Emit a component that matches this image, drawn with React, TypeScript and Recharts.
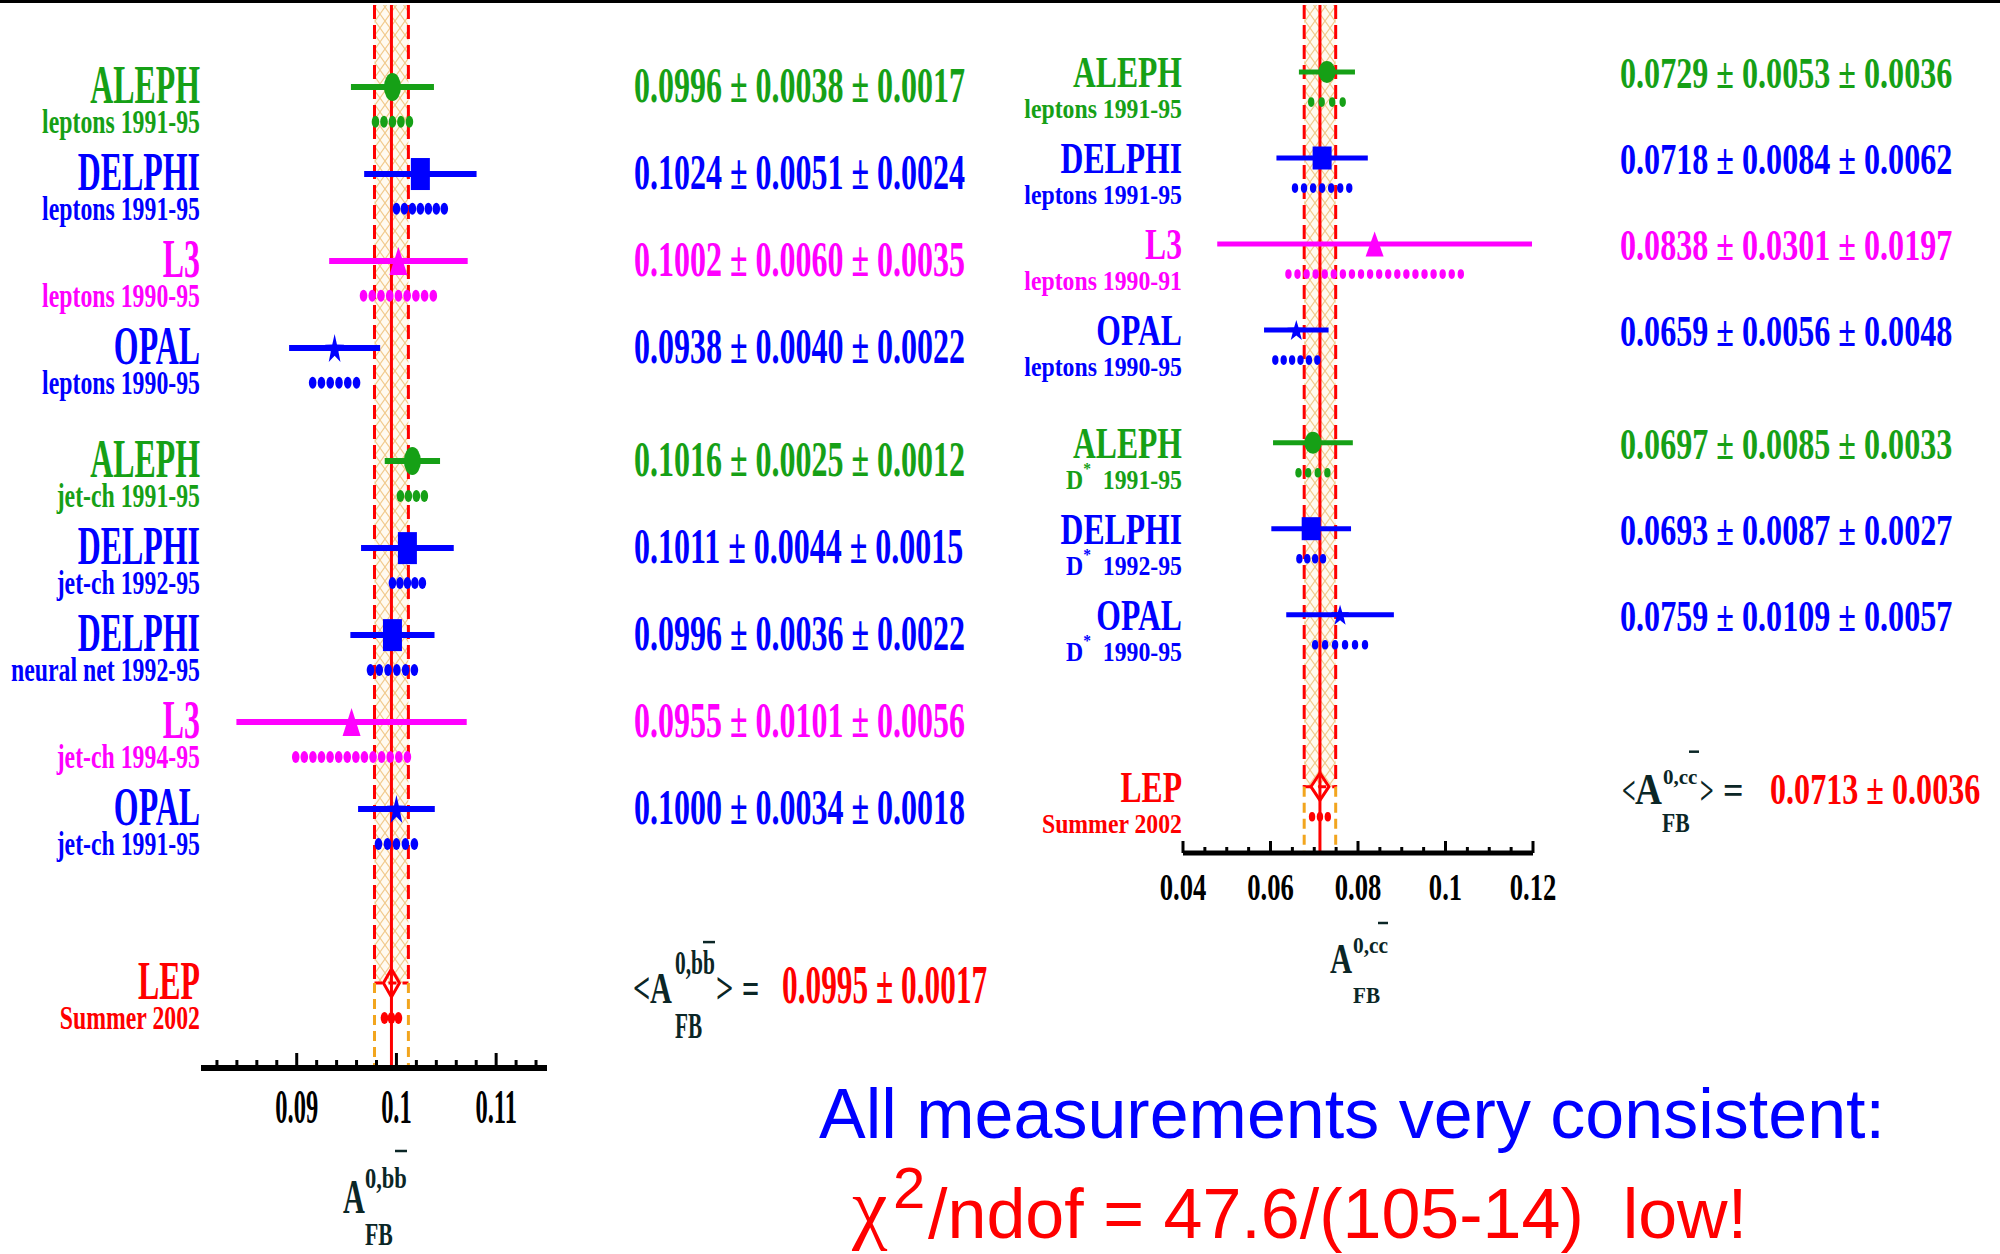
import React from "react";
import {
  Label,
  ReferenceArea,
  ReferenceLine,
  Scatter,
  ScatterChart,
  XAxis,
  YAxis,
} from "recharts";

const GREEN = "#16a016";
const BLUE = "#0000ff";
const MAGENTA = "#ff00ff";
const RED = "#ff0000";
const ORANGE = "#f2a51e";
const INK = "#0b2626";
const SERIF = "'Liberation Serif', 'Times New Roman', serif";
const SANS = "'Liberation Sans', Arial, sans-serif";

// A_FB^{0,b} measurements (left panel)
const bExperiments = ["ALEPH", "DELPHI", "L3", "OPAL", "ALEPH", "DELPHI", "DELPHI", "L3", "OPAL"];
const bMethods = [
  "leptons 1991-95",
  "leptons 1991-95",
  "leptons 1990-95",
  "leptons 1990-95",
  "jet-ch 1991-95",
  "jet-ch 1992-95",
  "neural net 1992-95",
  "jet-ch 1994-95",
  "jet-ch 1991-95",
];
const bValues = [0.0996, 0.1024, 0.1002, 0.0938, 0.1016, 0.1011, 0.0996, 0.0955, 0.1];
const bStat = [0.0038, 0.0051, 0.006, 0.004, 0.0025, 0.0044, 0.0036, 0.0101, 0.0034];
const bSyst = [0.0017, 0.0024, 0.0035, 0.0022, 0.0012, 0.0015, 0.0022, 0.0056, 0.0018];
const bLep = { value: 0.0995, error: 0.0017, dots: 0.0007 };
const bTicks = [
  0.082, 0.084, 0.086, 0.088, 0.09, 0.092, 0.094, 0.096, 0.098, 0.1, 0.102, 0.104, 0.106,
  0.108, 0.11, 0.112, 0.114,
];
const bTickLabels = [0.09, 0.1, 0.11];

// A_FB^{0,c} measurements (right panel)
const cExperiments = ["ALEPH", "DELPHI", "L3", "OPAL", "ALEPH", "DELPHI", "OPAL"];
const cMethods = [
  "leptons 1991-95",
  "leptons 1991-95",
  "leptons 1990-91",
  "leptons 1990-95",
  "D* 1991-95",
  "D* 1992-95",
  "D* 1990-95",
];
const cValues = [0.0729, 0.0718, 0.0838, 0.0659, 0.0697, 0.0693, 0.0759];
const cStat = [0.0053, 0.0084, 0.0301, 0.0056, 0.0085, 0.0087, 0.0109];
const cSyst = [0.0036, 0.0062, 0.0197, 0.0048, 0.0033, 0.0027, 0.0057];
const cLep = { value: 0.0713, error: 0.0036, dots: 0.0018 };
const cTicks = [
  0.04, 0.045, 0.05, 0.055, 0.06, 0.065, 0.07, 0.075, 0.08, 0.085, 0.09, 0.095, 0.1, 0.105,
  0.11, 0.115, 0.12,
];
const cTickLabels = [0.04, 0.06, 0.08, 0.1, 0.12];

const EXP_STYLE: Record<string, { color: string; shape: string }> = {
  ALEPH: { color: GREEN, shape: "circle" },
  DELPHI: { color: BLUE, shape: "square" },
  L3: { color: MAGENTA, shape: "triangle" },
  OPAL: { color: BLUE, shape: "star" },
};

const bPanel = {
  id: "b",
  left: 0,
  width: 1000,
  height: 1254,
  nameWidth: 201,
  valueWidth: 453,
  axisHeight: 186,
  xDomain: [0.0804, 0.1151],
  rowDomain: [-0.943, 11.276],
  gapAfter: 4,
  gap: 0.3,
  dotRow: 0.4,
  name: { size: 54, sx: 0.59, dy: 16 },
  sub: { size: 34, sx: 0.7, dy: 46 },
  val: { size: 50, sx: 0.64, dx: 87, dy: 15 },
  bar: 6,
  dots: { spacing: 8.3, rx: 3.8, ry: 6 },
  marker: { circle: [17, 28], square: [19, 32], triangle: [18, 28], star: [19, 28], diamond: [16, 28] },
  ticks: { major: 15, minor: 8, size: 49, sx: 0.5, dy: 55, line: 6 },
  sup: "0,bb",
  formula: {
    lt: { dx: 86, size: 44, sx: 0.69 },
    a: { dx: 103, size: 44, sx: 0.69 },
    gt: { dx: 169, size: 44, sx: 0.69 },
    eq: { dx: 195, size: 44, sx: 0.69 },
    base: 20,
    sup: { dx: 128, dy: -9, size: 34, sx: 0.63 },
    bar: { x1: 156, x2: 168, dy: -41 },
    fb: { dx: 128, dy: 55, size: 36, sx: 0.59 },
    value: { dx: 235, size: 55, sx: 0.57 },
  },
  title: {
    a: { dx: 142, dy: 145, size: 48, sx: 0.63 },
    sup: { dx: 164, dy: 120, size: 30, sx: 0.75 },
    bar: { x1: 194, x2: 206, dy: 83 },
    fb: { dx: 164, dy: 177, size: 32, sx: 0.68 },
  },
};

const cPanel = {
  id: "c",
  left: 1000,
  width: 1000,
  height: 1010,
  nameWidth: 183,
  valueWidth: 467,
  axisHeight: 157,
  xDomain: [0.04, 0.12],
  rowDomain: [-0.779, 9.081],
  gapAfter: 4,
  gap: 0.31,
  dotRow: 0.35,
  name: { size: 44, sx: 0.72, dy: 15 },
  sub: { size: 27, sx: 0.88, dy: 46 },
  val: { size: 44, sx: 0.73, dx: 87, dy: 16 },
  bar: 5,
  dots: { spacing: 9.3, rx: 3.2, ry: 4.8 },
  marker: { circle: [17, 22], square: [19, 23], triangle: [18, 25], star: [18, 20], diamond: [18, 27] },
  ticks: { major: 12, minor: 6, size: 37, sx: 0.72, dy: 47, line: 5 },
  sup: "0,cc",
  formula: {
    lt: { dx: 89, size: 40, sx: 0.6 },
    a: { dx: 102, size: 45, sx: 0.83 },
    gt: { dx: 167, size: 40, sx: 0.6 },
    eq: { dx: 190, size: 40, sx: 0.9 },
    base: 17,
    sup: { dx: 130, dy: -3, size: 21, sx: 1 },
    bar: { x1: 156, x2: 166, dy: -35 },
    fb: { dx: 129, dy: 45, size: 27, sx: 0.8 },
    value: { dx: 237, size: 44, sx: 0.73 },
  },
  title: {
    a: { dx: 147, dy: 120, size: 42, sx: 0.73 },
    sup: { dx: 170, dy: 100, size: 23, sx: 0.93 },
    bar: { x1: 195, x2: 205, dy: 70 },
    fb: { dx: 170, dy: 150, size: 23, sx: 0.92 },
  },
};

const fmt4 = (v: number) => v.toFixed(4);
const near = (a: number, b: number) => Math.abs(a - b) < 1e-6;

function makeRows(exps, methods, values, stat, syst, cfg) {
  return exps.map((exp, i) => ({
    pos: i + (i >= cfg.gapAfter ? cfg.gap : 0),
    exp,
    method: methods[i],
    value: values[i],
    stat: stat[i],
    syst: syst[i],
    total: Math.sqrt(stat[i] * stat[i] + syst[i] * syst[i]),
  }));
}

// condensed bold serif text, like the stretched original
const SText = ({ x, y, size, sx = 1, fill = INK, anchor = "start", children }: any) => (
  <text
    transform={`translate(${x},${y}) scale(${sx},1)`}
    fontSize={size}
    fill={fill}
    textAnchor={anchor}
    fontWeight="bold"
    fontFamily={SERIF}
    xmlSpace="preserve"
  >
    {children}
  </text>
);

const SubText = ({ method, size }: any) => {
  if (method.startsWith("D* ")) {
    return (
      <>
        <tspan>D</tspan>
        <tspan dy={-size * 0.55} fontSize={size * 0.65}>*</tspan>
        <tspan dy={size * 0.55}>{"  " + method.slice(3)}</tspan>
      </>
    );
  }
  return <>{method}</>;
};

const NameTick = ({ x, y, payload, rows, lepPos, cfg }: any) => {
  const isLep = near(payload.value, lepPos);
  const row = rows.find((r) => near(r.pos, payload.value));
  if (!isLep && !row) return null;
  const color = isLep ? RED : EXP_STYLE[row.exp].color;
  return (
    <g>
      <SText x={x - 1} y={y + cfg.name.dy} size={cfg.name.size} sx={cfg.name.sx} fill={color} anchor="end">
        {isLep ? "LEP" : row.exp}
      </SText>
      <SText x={x - 1} y={y + cfg.sub.dy} size={cfg.sub.size} sx={cfg.sub.sx} fill={color} anchor="end">
        {isLep ? "Summer 2002" : <SubText method={row.method} size={cfg.sub.size} />}
      </SText>
    </g>
  );
};

const Formula = ({ x, y, cfg, lep }: any) => {
  const f = cfg.formula;
  const by = y + f.base;
  return (
    <g>
      <SText x={x + f.lt.dx} y={by} size={f.lt.size} sx={f.lt.sx}>{"<"}</SText>
      <SText x={x + f.a.dx} y={by} size={f.a.size} sx={f.a.sx}>A</SText>
      <SText x={x + f.sup.dx} y={y + f.sup.dy} size={f.sup.size} sx={f.sup.sx}>{cfg.sup}</SText>
      <line x1={x + f.bar.x1} x2={x + f.bar.x2} y1={y + f.bar.dy} y2={y + f.bar.dy} stroke={INK} strokeWidth={2.5} />
      <SText x={x + f.fb.dx} y={y + f.fb.dy} size={f.fb.size} sx={f.fb.sx}>FB</SText>
      <SText x={x + f.gt.dx} y={by} size={f.gt.size} sx={f.gt.sx}>{">"}</SText>
      <SText x={x + f.eq.dx} y={by} size={f.eq.size} sx={f.eq.sx}>=</SText>
      <SText x={x + f.value.dx} y={by} size={f.value.size} sx={f.value.sx} fill={RED}>
        {`${fmt4(lep.value)} \u00b1 ${fmt4(lep.error)}`}
      </SText>
    </g>
  );
};

const ValueTick = ({ x, y, payload, rows, lepPos, cfg, lep }: any) => {
  if (near(payload.value, lepPos)) return <Formula x={x} y={y} cfg={cfg} lep={lep} />;
  const row = rows.find((r) => near(r.pos, payload.value));
  if (!row) return null;
  return (
    <SText x={x + cfg.val.dx} y={y + cfg.val.dy} size={cfg.val.size} sx={cfg.val.sx} fill={EXP_STYLE[row.exp].color}>
      {`${fmt4(row.value)} \u00b1 ${fmt4(row.stat)} \u00b1 ${fmt4(row.syst)}`}
    </SText>
  );
};

const XTick = ({ x, y, payload, cfg, labels }: any) => {
  const v = payload.value;
  const major = labels.some((l) => near(l, v));
  return (
    <g>
      <line
        x1={x}
        x2={x}
        y1={y}
        y2={y - (major ? cfg.ticks.major : cfg.ticks.minor)}
        stroke="#000"
        strokeWidth={3}
      />
      {major && (
        <SText x={x} y={y + cfg.ticks.dy} size={cfg.ticks.size} sx={cfg.ticks.sx} fill="#000" anchor="middle">
          {String(+v.toFixed(3))}
        </SText>
      )}
    </g>
  );
};

const AxisTitle = ({ viewBox, cfg }: any) => {
  const x = viewBox && viewBox.x != null ? viewBox.x : cfg.nameWidth;
  const y = viewBox && viewBox.y != null ? viewBox.y : cfg.height - cfg.axisHeight;
  const t = cfg.title;
  return (
    <g>
      <SText x={x + t.a.dx} y={y + t.a.dy} size={t.a.size} sx={t.a.sx}>A</SText>
      <SText x={x + t.sup.dx} y={y + t.sup.dy} size={t.sup.size} sx={t.sup.sx}>{cfg.sup}</SText>
      <line x1={x + t.bar.x1} x2={x + t.bar.x2} y1={y + t.bar.dy} y2={y + t.bar.dy} stroke={INK} strokeWidth={2.5} />
      <SText x={x + t.fb.dx} y={y + t.fb.dy} size={t.fb.size} sx={t.fb.sx}>FB</SText>
    </g>
  );
};

function starPoints(cx: number, cy: number, w: number, h: number) {
  const pts: string[] = [];
  for (let k = 0; k < 10; k++) {
    const ang = -Math.PI / 2 + (k * Math.PI) / 5;
    const r = k % 2 ? 0.4 : 1;
    const px = cx + (r * Math.cos(ang) * w) / 1.902;
    const py = cy + ((r * Math.sin(ang) + 0.0955) * h) / 1.809;
    pts.push(`${px},${py}`);
  }
  return pts.join(" ");
}

const Marker = ({ cx, cy, payload, cfg }: any) => {
  if (payload.exp === "LEP") {
    const [w, h] = cfg.marker.diamond;
    return (
      <polygon
        points={`${cx},${cy - h / 2} ${cx + w / 2},${cy} ${cx},${cy + h / 2} ${cx - w / 2},${cy}`}
        fill="none"
        stroke={RED}
        strokeWidth={3}
      />
    );
  }
  const st = EXP_STYLE[payload.exp];
  const [w, h] = cfg.marker[st.shape];
  if (st.shape === "circle") return <ellipse cx={cx} cy={cy} rx={w / 2} ry={h / 2} fill={st.color} />;
  if (st.shape === "square")
    return <rect x={cx - w / 2} y={cy - h / 2} width={w} height={h} fill={st.color} />;
  if (st.shape === "triangle")
    return (
      <polygon
        points={`${cx},${cy - h / 2} ${cx - w / 2},${cy + h / 2} ${cx + w / 2},${cy + h / 2}`}
        fill={st.color}
      />
    );
  return <polygon points={starPoints(cx, cy, w, h)} fill={st.color} />;
};

// systematic error drawn as a row of dots between the segment ends
const DotRow = ({ x1, y1, x2, color, cfg }: any) => {
  const len = Math.abs(x2 - x1);
  const n = Math.max(1, Math.round(len / cfg.dots.spacing) + 1);
  const step = n > 1 ? len / (n - 1) : 0;
  const start = Math.min(x1, x2);
  return (
    <g>
      {Array.from({ length: n }, (_, k) => (
        <ellipse key={k} cx={start + k * step} cy={y1} rx={cfg.dots.rx} ry={cfg.dots.ry} fill={color} />
      ))}
    </g>
  );
};

function Panel({ cfg, rows, lep, ticks, tickLabels }: any) {
  const lepPos = rows[rows.length - 1].pos + 2;
  const [top, bottom] = cfg.rowDomain;
  const lo = lep.value - lep.error;
  const hi = lep.value + lep.error;
  const rowTicks = [...rows.map((r) => r.pos), lepPos];
  const points = rows.map((r) => ({ x: r.value, y: r.pos, exp: r.exp }));
  const lepPoint = [{ x: lep.value, y: lepPos, exp: "LEP" }];
  const hatch = `hatch-${cfg.id}`;

  return (
    <div style={{ position: "absolute", left: cfg.left, top: 0 }}>
      <ScatterChart width={cfg.width} height={cfg.height} margin={{ top: 5, right: 0, bottom: 0, left: 0 }}>
        <defs>
          <pattern id={hatch} width={10} height={14} patternUnits="userSpaceOnUse">
            <rect width={10} height={14} fill="#fffaf0" />
            <path d="M0,0 L10,14 M10,0 L0,14" stroke="#f1c98a" strokeWidth={1.1} />
          </pattern>
        </defs>
        <XAxis
          type="number"
          dataKey="x"
          domain={cfg.xDomain}
          allowDataOverflow
          ticks={ticks}
          interval={0}
          height={cfg.axisHeight}
          tickSize={0}
          tickMargin={0}
          tickLine={false}
          axisLine={{ stroke: "#000", strokeWidth: cfg.ticks.line }}
          tick={(p: any) => <XTick {...p} cfg={cfg} labels={tickLabels} />}
        >
          <Label content={(p: any) => <AxisTitle viewBox={p.viewBox} cfg={cfg} />} />
        </XAxis>
        <YAxis
          yAxisId="rows"
          type="number"
          dataKey="y"
          domain={cfg.rowDomain}
          reversed
          allowDataOverflow
          ticks={rowTicks}
          interval={0}
          width={cfg.nameWidth}
          tickSize={0}
          tickMargin={0}
          tickLine={false}
          axisLine={false}
          tick={(p: any) => <NameTick {...p} rows={rows} lepPos={lepPos} cfg={cfg} />}
        />
        <YAxis
          yAxisId="vals"
          orientation="right"
          type="number"
          dataKey="y"
          domain={cfg.rowDomain}
          reversed
          allowDataOverflow
          ticks={rowTicks}
          interval={0}
          width={cfg.valueWidth}
          tickSize={0}
          tickMargin={0}
          tickLine={false}
          axisLine={false}
          tick={(p: any) => <ValueTick {...p} rows={rows} lepPos={lepPos} cfg={cfg} lep={lep} />}
        />

        {/* LEP average band */}
        <ReferenceArea
          yAxisId="rows"
          x1={lo}
          x2={hi}
          y1={top}
          y2={lepPos}
          fill={`url(#${hatch})`}
          fillOpacity={1}
          stroke="none"
          ifOverflow="visible"
        />
        {[lo, hi].map((v) => (
          <ReferenceLine
            key={`red-${v}`}
            yAxisId="rows"
            segment={[{ x: v, y: top }, { x: v, y: lepPos }]}
            stroke={RED}
            strokeWidth={3}
            strokeDasharray="14 6"
            ifOverflow="visible"
          />
        ))}
        <ReferenceLine
          yAxisId="rows"
          segment={[{ x: lo, y: lepPos }, { x: hi, y: lepPos }]}
          stroke={RED}
          strokeWidth={3}
          strokeDasharray="8 6"
          ifOverflow="visible"
        />
        {[lo, hi].map((v) => (
          <ReferenceLine
            key={`or-${v}`}
            yAxisId="rows"
            segment={[{ x: v, y: lepPos }, { x: v, y: bottom }]}
            stroke={ORANGE}
            strokeWidth={3}
            strokeDasharray="10 6"
            ifOverflow="visible"
          />
        ))}
        <ReferenceLine yAxisId="rows" x={lep.value} stroke={RED} strokeWidth={3} ifOverflow="visible" />

        {/* total error bars */}
        {rows.map((r, i) => (
          <ReferenceLine
            key={`bar-${i}`}
            yAxisId="rows"
            segment={[{ x: r.value - r.total, y: r.pos }, { x: r.value + r.total, y: r.pos }]}
            stroke={EXP_STYLE[r.exp].color}
            strokeWidth={cfg.bar}
            ifOverflow="visible"
          />
        ))}
        {/* systematic errors as dots */}
        {rows.map((r, i) => (
          <ReferenceLine
            key={`sys-${i}`}
            yAxisId="rows"
            segment={[
              { x: r.value - r.syst, y: r.pos + cfg.dotRow },
              { x: r.value + r.syst, y: r.pos + cfg.dotRow },
            ]}
            ifOverflow="visible"
            shape={(p: any) => <DotRow {...p} color={EXP_STYLE[r.exp].color} cfg={cfg} />}
          />
        ))}
        <ReferenceLine
          yAxisId="rows"
          segment={[
            { x: lep.value - lep.dots, y: lepPos + cfg.dotRow },
            { x: lep.value + lep.dots, y: lepPos + cfg.dotRow },
          ]}
          ifOverflow="visible"
          shape={(p: any) => <DotRow {...p} color={RED} cfg={cfg} />}
        />

        <Scatter
          yAxisId="rows"
          data={points}
          isAnimationActive={false}
          shape={(p: any) => <Marker {...p} cfg={cfg} />}
        />
        <Scatter
          yAxisId="rows"
          data={lepPoint}
          isAnimationActive={false}
          shape={(p: any) => <Marker {...p} cfg={cfg} />}
        />
      </ScatterChart>
    </div>
  );
}

export default function App() {
  const bRows = makeRows(bExperiments, bMethods, bValues, bStat, bSyst, bPanel);
  const cRows = makeRows(cExperiments, cMethods, cValues, cStat, cSyst, cPanel);
  return (
    <div
      style={{
        position: "absolute",
        left: 0,
        top: 0,
        width: 2000,
        height: 1254,
        background: "#fff",
        overflow: "hidden",
      }}
    >
      <Panel cfg={bPanel} rows={bRows} lep={bLep} ticks={bTicks} tickLabels={bTickLabels} />
      <Panel cfg={cPanel} rows={cRows} lep={cLep} ticks={cTicks} tickLabels={cTickLabels} />
      <div style={{ position: "absolute", left: 0, top: 0, width: 2000, height: 3, background: "#000" }} />
      <svg
        width={2000}
        height={1254}
        style={{ position: "absolute", left: 0, top: 0, pointerEvents: "none" }}
      >
        <text x={819} y={1138} fontFamily={SANS} fontSize={70} fill={BLUE}>
          All measurements very consistent:
        </text>
        <text x={852} y={1234} fontFamily={SERIF} fontSize={80} fill={RED}>
          χ
        </text>
        <text x={893} y={1208} fontFamily={SANS} fontSize={58} fill={RED}>
          2
        </text>
        <text x={928} y={1238} fontFamily={SANS} fontSize={70} fill={RED} xmlSpace="preserve">
          {"/ndof = 47.6/(105-14)  low!"}
        </text>
      </svg>
    </div>
  );
}
